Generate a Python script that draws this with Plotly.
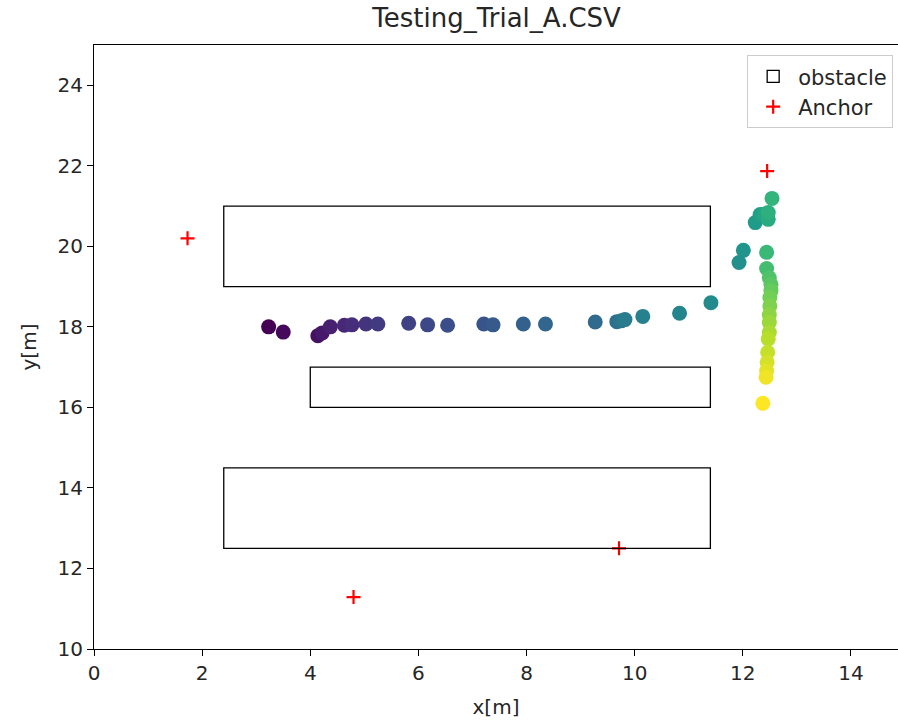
import plotly.graph_objects as go
import plotly.colors as pc

# trajectory points (in time order)
pos_x = [3.23, 3.50, 4.14, 4.22, 4.37, 4.63, 4.77, 5.03, 5.25, 5.82, 6.17, 6.54,
         7.21, 7.38, 7.94, 8.35, 9.27, 9.67, 9.75, 9.82, 10.15, 10.83, 11.41,
         11.93, 12.01, 12.23, 12.32, 12.40, 12.47, 12.47, 12.54,
         12.44, 12.44, 12.49, 12.52, 12.52, 12.50, 12.50, 12.49, 12.49, 12.49,
         12.47, 12.46, 12.45, 12.44, 12.43, 12.37]
pos_y = [18.00, 17.87, 17.78, 17.85, 18.00, 18.04, 18.05, 18.07, 18.07, 18.09, 18.05, 18.04,
         18.07, 18.05, 18.07, 18.07, 18.12, 18.13, 18.15, 18.18, 18.26, 18.34, 18.60,
         19.60, 19.90, 20.59, 20.79, 20.80, 20.67, 20.84, 21.19,
         19.85, 19.45, 19.22, 19.06, 18.90, 18.73, 18.52, 18.30, 18.11, 17.86,
         17.70, 17.37, 17.12, 16.91, 16.75, 16.10]

# obstacles: (x0, y0, x1, y1)
obs_x0 = [2.4, 4.0, 2.4]
obs_y0 = [19.0, 16.0, 12.5]
obs_x1 = [11.4, 11.4, 11.4]
obs_y1 = [21.0, 17.0, 14.5]

# anchors
anchor_x = [1.73, 12.45, 9.71, 4.80]
anchor_y = [20.20, 21.87, 12.50, 11.29]

x_ticks = [0, 2, 4, 6, 8, 10, 12, 14]
y_ticks = [10, 12, 14, 16, 18, 20, 22, 24]

FONT = "DejaVu Sans"
TXT = "#262626"
n = len(pos_x)
colors = pc.sample_colorscale("Viridis", [i / (n - 1) for i in range(n)])

fig = go.Figure()

for i, (a, b, c, d) in enumerate(zip(obs_x0, obs_y0, obs_x1, obs_y1)):
    fig.add_shape(type="rect", xref="x", yref="y", x0=a, y0=b, x1=c, y1=d,
                  line=dict(color="black", width=1.3), fillcolor="rgba(0,0,0,0)",
                  name="obstacle", legendgroup="obstacle", showlegend=(i == 0),
                  legendrank=1)

fig.add_trace(go.Scatter(x=pos_x, y=pos_y, mode="markers",
                         marker=dict(size=15, color=colors, line=dict(width=0)),
                         showlegend=False))

fig.add_trace(go.Scatter(x=anchor_x, y=anchor_y, mode="markers", name="Anchor",
                         legendrank=2,
                         marker=dict(symbol="cross-thin", size=10,
                                     line=dict(color="red", width=2.2), color="red")))

axis_common = dict(showgrid=False, zeroline=False, showline=True, linecolor="black",
                   linewidth=1, mirror=True, ticks="outside", ticklen=6,
                   tickcolor="black", automargin=False,
                   tickfont=dict(family=FONT, size=20, color=TXT))

fig.update_layout(
    width=898, height=724,
    margin=dict(l=94, r=0, t=45, b=75),
    paper_bgcolor="white", plot_bgcolor="white",
    title=dict(text="Testing_Trial_A.CSV", x=0.553, xanchor="center", y=0.975,
               yanchor="middle", font=dict(family=FONT, size=26, color=TXT),
               automargin=False),
    xaxis=dict(range=[0, 14.87], tickvals=x_ticks,
               title=dict(text="x[m]", font=dict(family=FONT, size=20, color=TXT),
                          standoff=15),
               **axis_common),
    yaxis=dict(range=[10, 25], tickvals=y_ticks,
               title=dict(text="y[m]", font=dict(family=FONT, size=20, color=TXT),
                          standoff=15),
               **axis_common),
    legend=dict(x=0.994, y=0.983, xanchor="right", yanchor="top",
                bgcolor="white", bordercolor="#cccccc", borderwidth=1,
                tracegroupgap=0, itemwidth=40,
                font=dict(family=FONT, size=21, color=TXT)),
    showlegend=True,
)

fig.write_html("out.html", config={"displayModeBar": False},
               post_script="document.body.style.margin='0';"
                           "document.body.style.overflow='hidden';")
